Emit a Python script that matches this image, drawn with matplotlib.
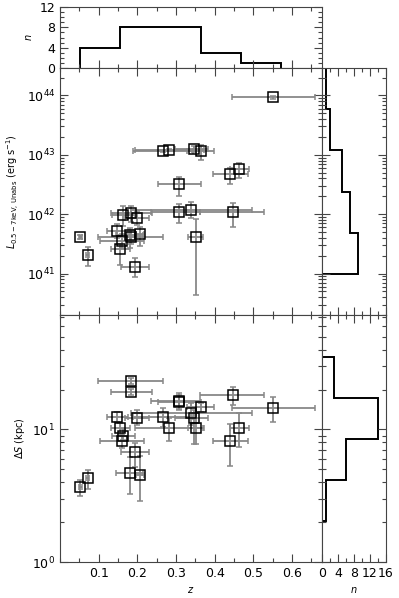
import numpy as np
import matplotlib
matplotlib.use("Agg")
import matplotlib.pyplot as plt
from matplotlib.ticker import MultipleLocator, LogLocator, NullFormatter, FixedLocator

# redshift of each source, with lower / upper error
z = [0.053, 0.072, 0.147, 0.155, 0.160, 0.164, 0.181, 0.183, 0.184, 0.194, 0.198, 0.207,
     0.267, 0.283, 0.309, 0.309, 0.339, 0.348, 0.351, 0.365, 0.441, 0.447, 0.464, 0.552]
z_elo = [0.004, 0.004, 0.026, 0.022, 0.057, 0.030, 0.035, 0.084, 0.053, 0.036, 0.030, 0.010,
         0.077, 0.090, 0.055, 0.074, 0.154, 0.051, 0.019, 0.037, 0.046, 0.085, 0.025, 0.108]
z_ehi = [0.004, 0.004, 0.030, 0.025, 0.057, 0.030, 0.034, 0.083, 0.053, 0.036, 0.032, 0.010,
         0.078, 0.090, 0.056, 0.053, 0.158, 0.036, 0.020, 0.034, 0.046, 0.081, 0.025, 0.107]

# 0.5-7 keV unabsorbed luminosity, 1e41 erg/s (value, lower bound, upper bound)
lum = [4.1, 2.07, 5.2, 2.6, 3.5, 9.5, 4.4, 4.1, 10.5, 1.3, 8.7, 4.6,
       116, 120, 32, 10.7, 11.7, 125, 4.2, 115, 47, 10.7, 57, 930]
lum_lo = [3.8, 1.35, 4.0, 1.4, 2.7, 6.3, 2.7, 3.2, 7.5, 0.89, 6.6, 2.9,
          110, 114, 20, 7.1, 8.5, 112, 0.43, 83, 32, 6.0, 40, 880]
lum_hi = [4.4, 2.8, 6.9, 3.2, 4.6, 13.8, 5.8, 5.4, 13.8, 1.8, 11.5, 6.0,
          122, 127, 43, 14.8, 15.8, 140, 8.3, 145, 60, 15.5, 72, 980]

# projected offset in kpc (value, lower bound, upper bound)
ds = [3.69, 4.27, 12.4, 10.3, 8.2, 9.0, 4.73, 23.2, 19.2, 6.7, 12.2, 4.52,
      12.4, 10.3, 16.0, 16.4, 13.2, 12.2, 10.2, 14.8, 8.2, 18.1, 10.3, 14.6]
ds_lo = [3.17, 3.58, 11.3, 9.3, 7.2, 8.3, 3.24, 22.0, 18.2, 5.2, 10.8, 2.87,
         10.5, 8.2, 14.0, 14.2, 10.8, 7.7, 7.7, 13.6, 5.3, 15.2, 7.4, 11.4]
ds_hi = [4.19, 4.93, 13.6, 11.1, 9.06, 10.0, 6.2, 24.4, 20.2, 7.9, 14.0, 6.3,
         14.4, 12.2, 18.2, 18.7, 15.7, 14.0, 13.2, 15.9, 10.9, 20.8, 13.2, 17.6]

# histograms
z_edges = [0.052, 0.156, 0.260, 0.364, 0.468, 0.572]
z_counts = [4, 8, 8, 3, 1]
loglum_edges = [41.0, 41.69, 42.38, 43.08, 43.78, 44.47]
lum_counts = [9, 7, 5, 2, 1]
logds_edges = [0.307, 0.617, 0.927, 1.238, 1.548]
ds_counts = [1, 6, 14, 3]

z_ticks = [0.1, 0.2, 0.3, 0.4, 0.5, 0.6]

plt.rcParams["font.size"] = 9
plt.rcParams["mathtext.default"] = "regular"

W, H = 399, 598
fig = plt.figure(figsize=(W / 100, H / 100), dpi=100)


def box(x0, y0, x1, y1):
    return [x0 / W, 1 - y1 / H, (x1 - x0) / W, (y1 - y0) / H]


ax_top = fig.add_axes(box(60, 7, 322, 68))
ax_l = fig.add_axes(box(60, 68, 322, 315), sharex=ax_top)
ax_d = fig.add_axes(box(60, 315, 322, 562), sharex=ax_top)
ax_rl = fig.add_axes(box(322, 68, 386, 315), sharey=ax_l)
ax_rd = fig.add_axes(box(322, 315, 386, 562), sharey=ax_d, sharex=ax_rl)

z = np.array(z)
lum = np.array(lum) * 1e41
lum_lo = np.array(lum_lo) * 1e41
lum_hi = np.array(lum_hi) * 1e41
ds = np.array(ds)

eb = dict(fmt="s", ms=6.5, mfc="none", mec="black", mew=1.1, ecolor="#888888",
          elinewidth=1.3, capsize=2.5, capthick=1.0)
ax_l.errorbar(z, lum, xerr=[z_elo, z_ehi], yerr=[lum - lum_lo, lum_hi - lum], **eb)
ax_d.errorbar(z, ds, xerr=[z_elo, z_ehi],
              yerr=[ds - np.array(ds_lo), np.array(ds_hi) - ds], **eb)

ax_top.stairs(z_counts, z_edges, color="black", lw=1.4)
ax_rl.stairs(lum_counts, 10 ** np.array(loglum_edges), orientation="horizontal",
             color="black", lw=1.4)
ax_rd.stairs(ds_counts, 10 ** np.array(logds_edges), orientation="horizontal",
             color="black", lw=1.4)

ax_top.set_xlim(0, 0.678)
ax_top.set_ylim(0, 12)
ax_top.yaxis.set_major_locator(MultipleLocator(4))
ax_top.yaxis.set_minor_locator(MultipleLocator(1))
ax_top.xaxis.set_major_locator(FixedLocator(z_ticks))
ax_top.xaxis.set_minor_locator(MultipleLocator(0.05))
ax_top.set_ylabel("$\\it{n}$", fontsize=7)

ax_l.set_yscale("log")
ax_l.set_ylim(2e40, 2.9e44)
ax_l.set_ylabel("$\\it{L}_{0.5-7\\mathrm{keV,\\,Unabs}}$ (erg s$^{-1}$)", fontsize=7)

ax_d.set_yscale("log")
ax_d.set_ylim(1, 73)
ax_d.set_ylabel("$\\Delta \\it{S}$ (kpc)", fontsize=7)
ax_d.set_xlabel("$\\it{z}$", fontsize=7)

ax_rl.set_xlim(0, 16)
ax_rl.xaxis.set_major_locator(MultipleLocator(4))
ax_rl.xaxis.set_minor_locator(MultipleLocator(2))
ax_rd.set_xlabel("$\\it{n}$", fontsize=7)

for ax in (ax_l, ax_d, ax_rl, ax_rd):
    ax.yaxis.set_major_locator(LogLocator(base=10))
    ax.yaxis.set_minor_locator(LogLocator(base=10, subs=np.arange(2, 10)))
    ax.yaxis.set_minor_formatter(NullFormatter())

for ax in (ax_top, ax_l, ax_d, ax_rl, ax_rd):
    ax.tick_params(which="both", direction="in", top=True, right=True, color="#444444")
    ax.tick_params(which="major", length=6, width=0.8)
    ax.tick_params(which="minor", length=3, width=0.8)
    for s in ax.spines.values():
        s.set_color("#444444")

ax_top.tick_params(labelbottom=False)
ax_l.tick_params(labelbottom=False)
ax_rl.tick_params(labelbottom=False, labelleft=False)
ax_rd.tick_params(labelleft=False)

fig.savefig("out.png", dpi=100)
